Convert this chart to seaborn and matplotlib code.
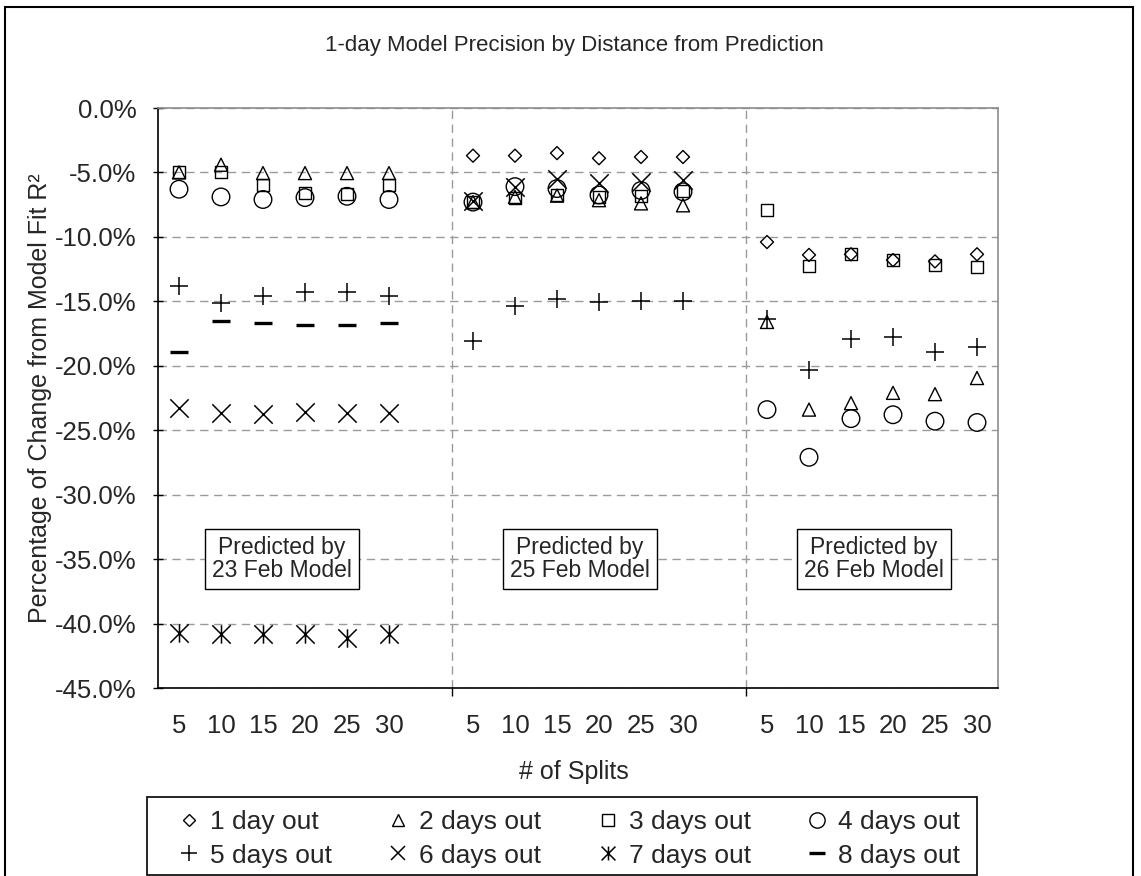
import numpy as np
import pandas as pd
import matplotlib
matplotlib.use("Agg")
import matplotlib.pyplot as plt
import seaborn as sns
from matplotlib.path import Path
from matplotlib.lines import Line2D
from matplotlib.patches import Rectangle
from matplotlib.ticker import FuncFormatter, FixedLocator

# ---------------- data ----------------
splits = [5, 10, 15, 20, 25, 30]
models = ["23 Feb Model", "25 Feb Model", "26 Feb Model"]
series_names = ["1 day out", "2 days out", "3 days out", "4 days out",
                "5 days out", "6 days out", "7 days out", "8 days out"]
nan = np.nan
# values in percent, per model group (23 Feb | 25 Feb | 26 Feb)
day1 = [nan, nan, nan, nan, nan, nan,
        -3.7, -3.7, -3.5, -3.9, -3.8, -3.8,
        -10.4, -11.4, -11.35, -11.8, -11.9, -11.35]
day2 = [-5.0, -4.4, -5.05, -5.05, -5.05, -5.05,
        -7.3, -6.9, -6.8, -7.15, -7.4, -7.55,
        -16.6, -23.4, -22.9, -22.1, -22.2, -20.95]
day3 = [-5.0, -5.0, -5.95, -6.6, -6.7, -6.0,
        -7.3, -7.0, -6.75, -6.9, -6.85, -6.45,
        -7.9, -12.25, -11.35, -11.8, -12.2, -12.3]
day4 = [-6.3, -6.9, -7.1, -6.95, -6.85, -7.1,
        -7.3, -6.1, -6.25, -6.75, -6.4, -6.5,
        -23.4, -27.1, -24.1, -23.8, -24.3, -24.4]
day5 = [-13.8, -15.15, -14.55, -14.3, -14.3, -14.55,
        -18.1, -15.4, -14.8, -15.05, -15.0, -15.0,
        -16.4, -20.3, -17.9, -17.8, -18.9, -18.55]
day6 = [-23.3, -23.65, -23.75, -23.55, -23.65, -23.7,
        -7.25, -6.1, -5.5, -5.85, -5.75, -5.6,
        nan, nan, nan, nan, nan, nan]
day7 = [-40.7, -40.8, -40.8, -40.8, -41.1, -40.8,
        nan, nan, nan, nan, nan, nan,
        nan, nan, nan, nan, nan, nan]
day8 = [-18.9, -16.5, -16.7, -16.8, -16.8, -16.7,
        nan, nan, nan, nan, nan, nan,
        nan, nan, nan, nan, nan, nan]
y_ticks = [0, -5, -10, -15, -20, -25, -30, -35, -40, -45]
box_x = [2.45, 9.55, 16.55]   # label box centres (category units)
box_y = -35.0

all_series = [day1, day2, day3, day4, day5, day6, day7, day8]

# ---------------- long-form table ----------------
gap = len(splits) + 1
rows = []
for name, vals in zip(series_names, all_series):
    k = 0
    for g, m in enumerate(models):
        for i, s in enumerate(splits):
            rows.append(dict(series=name, model=m, splits=s,
                             pos=g * gap + i, value=vals[k]))
            k += 1
df = pd.DataFrame(rows).dropna()

# ---------------- style ----------------
sns.set_theme(style="white")
plt.rcParams["font.family"] = ["Liberation Sans", "DejaVu Sans"]

star_path = Path([(-1, -1), (1, 1), (-1, 1), (1, -1), (0, -1), (0, 1)],
                 [Path.MOVETO, Path.LINETO, Path.MOVETO, Path.LINETO,
                  Path.MOVETO, Path.LINETO])

# marker spec: (marker, size s, hollow-filled?, linewidth)
specs = {
    "1 day out": ("D", 44, True, 1.0),
    "2 days out": ("^", 88, True, 1.0),
    "3 days out": ("s", 74, True, 1.0),
    "4 days out": ("o", 160, True, 1.0),
    "5 days out": ("+", 180, False, 1.1),
    "6 days out": ("x", 175, False, 1.1),
    "7 days out": (star_path, 175, False, 1.1),
    "8 days out": ("_", 180, False, 2.4),
}

fig = plt.figure(figsize=(11.41, 8.76), dpi=100)
W, H = 1141, 876
ax = fig.add_axes([158 / W, 1 - 688 / H, 840 / W, 580 / H])

for name in series_names:
    sub = df[df.series == name]
    mk, s, filled, lw = specs[name]
    if filled:
        sns.scatterplot(data=sub, x="pos", y="value", ax=ax, marker=mk, s=s,
                        color="black", facecolor="none", edgecolor="black",
                        linewidth=lw, zorder=3, legend=False)
    else:
        sns.scatterplot(data=sub, x="pos", y="value", ax=ax, marker=mk, s=s,
                        color="black", facecolor="black", edgecolor="black",
                        linewidth=lw, zorder=3, legend=False)

# axes
npos = len(models) * gap - 1
ax.set_xlim(-0.5, npos - 0.5)
ax.set_ylim(-45, 0)
ax.set_xlabel("")
ax.set_ylabel("")

tick_pos = [g * gap + i for g in range(len(models)) for i in range(len(splits))]
ax.xaxis.set_major_locator(FixedLocator(tick_pos))
ax.set_xticklabels([str(s) for _ in models for s in splits])
sep = [g * gap - 0.5 for g in range(1, len(models))]
ax.xaxis.set_minor_locator(FixedLocator(sep))
ax.tick_params(axis="x", which="major", length=0, pad=19, labelsize=18.5)
ax.tick_params(axis="x", which="minor", length=6, width=1, direction="out",
               color="black", bottom=True)

ax.yaxis.set_major_locator(FixedLocator(y_ticks))
ax.yaxis.set_major_formatter(FuncFormatter(lambda v, p: f"{v:.1f}%"))
ax.tick_params(axis="y", which="major", length=7, width=1, direction="inout",
               color="black", left=True, pad=12, labelsize=18.5)

ax.yaxis.grid(True, linestyle=(0, (6, 4)), color="#9a9a9a", linewidth=1)
ax.xaxis.grid(False)
for x in sep:
    ax.axvline(x, linestyle=(0, (6, 4)), color="#9a9a9a", linewidth=1, zorder=1)

for side in ["left", "bottom"]:
    ax.spines[side].set_color("black")
    ax.spines[side].set_linewidth(1.2)
for side in ["top", "right"]:
    ax.spines[side].set_color("#8c8c8c")
    ax.spines[side].set_linewidth(1.2)

# group labels
for bx, m in zip(box_x, models):
    ax.text(bx, box_y, "Predicted by\n" + m,
            ha="center", va="center", fontsize=16.5, linespacing=1.0,
            bbox=dict(boxstyle="square,pad=0.3", fc="white", ec="black", lw=1),
            zorder=4)

# titles
fig.text(574 / W, 1 - 45 / H, "1-day Model Precision by Distance from Prediction",
         ha="center", va="center", fontsize=16)
fig.text(574 / W, 1 - 772 / H, "# of Splits", ha="center", va="center", fontsize=18)
fig.text(40 / W, 1 - 398 / H, "Percentage of Change from Model Fit R²",
         ha="center", va="center", rotation=90, fontsize=18)

# legend
leg_specs = {
    "1 day out": ("D", 6, 1.0),
    "2 days out": ("^", 8, 1.0),
    "3 days out": ("s", 8, 1.0),
    "4 days out": ("o", 11, 1.0),
    "5 days out": ("+", 11, 1.1),
    "6 days out": ("x", 10, 1.1),
    "7 days out": (star_path, 10, 1.1),
    "8 days out": ("_", 11, 2.4),
}
handles = {}
for name in series_names:
    mk, ms, lw = leg_specs[name]
    handles[name] = Line2D([], [], linestyle="none", marker=mk, markersize=ms,
                           markerfacecolor="none", markeredgecolor="black",
                           markeredgewidth=lw, color="black")
order = [0, 4, 1, 5, 2, 6, 3, 7]
leg = fig.legend([handles[series_names[i]] for i in order],
                 [series_names[i] for i in order],
                 ncol=4, loc="center", bbox_to_anchor=(568 / W, 1 - 839 / H),
                 fontsize=19, frameon=False,
                 handlelength=1.0, handletextpad=0.3, columnspacing=2.0,
                 labelspacing=0.35, borderpad=0, borderaxespad=0)
fig.patches.append(Rectangle((147 / W, 1 - 875 / H), 830 / W, 78 / H,
                             transform=fig.transFigure, fill=False,
                             edgecolor="black", linewidth=1.2))

# outer chart border
fig.patches.append(Rectangle((5 / W, -0.05), (1133 - 5) / W, (H - 7) / H + 0.05,
                             transform=fig.transFigure, fill=False,
                             edgecolor="black", linewidth=1.5))

fig.savefig("out.png", dpi=100, facecolor="white")
